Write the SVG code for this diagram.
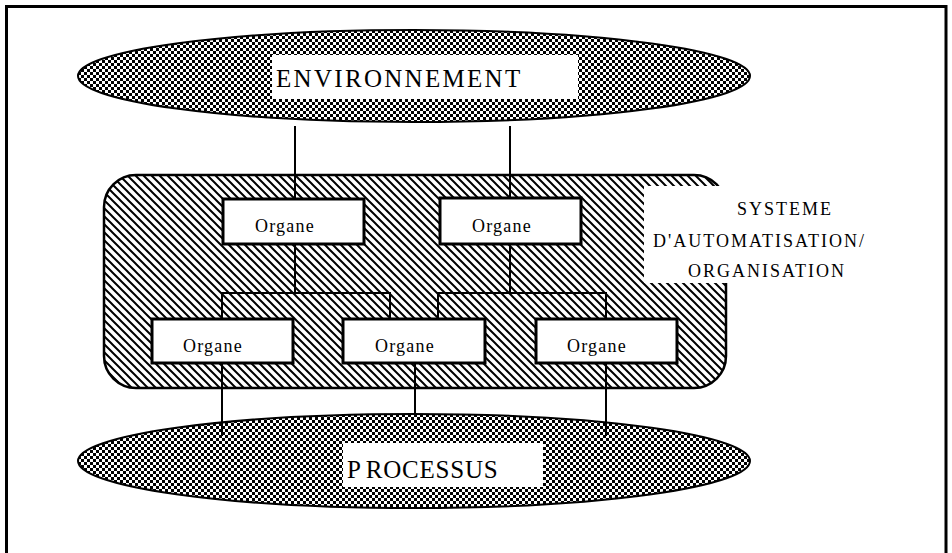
<svg xmlns="http://www.w3.org/2000/svg" width="952" height="553" viewBox="0 0 952 553">
<style>
.box{fill:#fff;stroke:#000;stroke-width:3}
.lbl{fill:#fff;stroke:none}
.ln{stroke:#000;stroke-width:2;fill:none}
.t{font-family:"Liberation Serif","Times New Roman",serif;fill:#000}
.org{font-size:18px;letter-spacing:1.2px}
.big{font-size:25px;letter-spacing:2.3px}
.proc{font-size:25px;letter-spacing:0.8px}
.sys{font-size:18px;letter-spacing:2px}
</style>
<defs>
<pattern id="checker" patternUnits="userSpaceOnUse" width="6" height="6">
<rect width="6" height="6" fill="#fff"/>
<rect width="3" height="3" fill="#000"/>
<rect x="3" y="3" width="3" height="3" fill="#000"/>
</pattern>
<pattern id="hatch" patternUnits="userSpaceOnUse" width="8" height="8">
<rect width="8" height="8" fill="#fff"/>
<path d="M-2,-2 L10,10 M-2,6 L2,10 M6,-2 L10,2" stroke="#000" stroke-width="2"/>
</pattern>
</defs>
<rect width="952" height="553" fill="#fff"/>
<rect x="6.5" y="6.5" width="939.5" height="560" fill="none" stroke="#000" stroke-width="3"/>

<g id="environnement">
<ellipse cx="414" cy="76" rx="336" ry="46" fill="url(#checker)" stroke="#000" stroke-width="2"/>
<rect class="lbl" x="272" y="55" width="306" height="44"/>
<text class="t big" x="276" y="87">ENVIRONNEMENT</text>
</g>

<g id="processus">
<ellipse cx="414" cy="461" rx="336" ry="47" fill="url(#checker)" stroke="#000" stroke-width="2"/>
<rect class="lbl" x="343" y="443" width="200" height="44"/>
<text class="t proc" x="347" y="478">P<tspan dx="4">ROCESSUS</tspan></text>
</g>

<g id="systeme">
<rect x="104" y="175" width="622" height="213" rx="32" ry="32" fill="url(#hatch)" stroke="#000" stroke-width="2.5"/>
<rect class="lbl" x="644" y="186" width="232" height="97"/>
<text class="t sys" x="737" y="215">SYSTEME</text>
<text class="t sys" x="653" y="247">D'AUTOMATISATION/</text>
<text class="t sys" x="688" y="277">ORGANISATION</text>
</g>

<g id="connectors">
<line class="ln" x1="295" y1="126" x2="295" y2="199"/>
<line class="ln" x1="510" y1="126" x2="510" y2="198"/>
<polyline class="ln" points="295,244 295,293"/>
<polyline class="ln" points="222,319 222,293 390,293 390,319"/>
<polyline class="ln" points="510,245 510,293"/>
<polyline class="ln" points="438,319 438,293 606,293 606,319"/>
<line class="ln" x1="222" y1="363" x2="222" y2="436"/>
<line class="ln" x1="415" y1="363" x2="415" y2="413"/>
<line class="ln" x1="606" y1="363" x2="606" y2="436"/>
</g>

<g id="organe1">
<rect class="box" x="223" y="199" width="141" height="45"/>
<text class="t org" x="255" y="232">Organe</text>
</g>
<g id="organe2">
<rect class="box" x="440" y="198" width="141" height="46"/>
<text class="t org" x="472" y="232">Organe</text>
</g>
<g id="organe3">
<rect class="box" x="152" y="319" width="141" height="44"/>
<text class="t org" x="183" y="352">Organe</text>
</g>
<g id="organe4">
<rect class="box" x="343" y="319" width="142" height="44"/>
<text class="t org" x="375" y="352">Organe</text>
</g>
<g id="organe5">
<rect class="box" x="536" y="319" width="141" height="44"/>
<text class="t org" x="567" y="352">Organe</text>
</g>
</svg>
